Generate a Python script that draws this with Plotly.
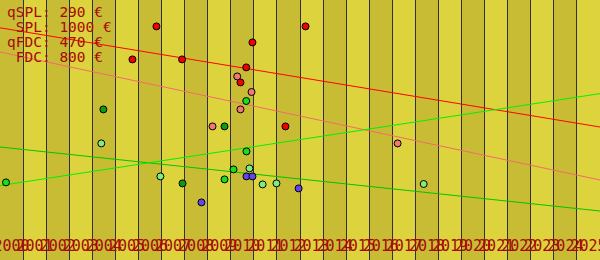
import plotly.graph_objects as go

# ---- data ----
years = list(range(2000, 2026))
year_labels = [str(y) for y in years]
dark_band_years = [y for y in years if y % 2 == 0]

red_x = [2006.78, 2013.24, 2010.94, 2005.74, 2007.89, 2010.67, 2010.42, 2012.37]
red_y = [1168, 1168, 1088, 1003, 1003, 963, 888, 668]

pink_x = [2010.28, 2010.90, 2010.42, 2009.21, 2017.23]
pink_y = [918, 840, 753, 668, 583]

bgreen_x = [2010.67, 2010.68, 2010.12, 2009.73, 2000.26]
bgreen_y = [795, 543, 453, 403, 388]

dgreen_x = [2004.48, 2009.73, 2007.91]
dgreen_y = [753, 668, 383]

lgreen_x = [2006.95, 2010.81, 2011.38, 2011.98, 2004.39, 2018.36]
lgreen_y = [418, 458, 378, 383, 583, 380]

blue_x = [2008.73, 2010.68, 2010.94, 2012.94]
blue_y = [288, 418, 418, 358]

trend_x = [2000, 2026]
red_trend = [1161, 665]
pink_trend = [1040, 400]
dgreen_trend = [565, 245]
bgreen_trend = [372, 832]

notes = ["qSPL: 290 €", "\u00a0SPL: 1000 €", "qFDC: 470 €", "\u00a0FDC: 800 €"]

# ---- styles ----
DARK_BAND = "#c9bc35"
LIGHT_BAND = "#ddd33d"
TEXT_COL = "#a50a0a"
FONT = "DejaVu Sans Mono"

fig = go.Figure()

for ys, col in [(red_trend, "#ff0000"), (pink_trend, "#f46a6a"),
                (dgreen_trend, "#00c400"), (bgreen_trend, "#00f000")]:
    fig.add_trace(go.Scatter(x=trend_x, y=ys, mode="lines",
                             line=dict(color=col, width=1), hoverinfo="skip"))

for xs, ys, col in [(red_x, red_y, "#f00000"), (pink_x, pink_y, "#f07878"),
                    (bgreen_x, bgreen_y, "#18e018"), (dgreen_x, dgreen_y, "#109a10"),
                    (lgreen_x, lgreen_y, "#80ec80"), (blue_x, blue_y, "#6444ee")]:
    fig.add_trace(go.Scatter(x=xs, y=ys, mode="markers",
                             marker=dict(color=col, size=7,
                                         line=dict(color="#000000", width=1))))

shapes = [dict(type="rect", xref="x", yref="paper", x0=y, x1=y + 1, y0=0, y1=1,
               fillcolor=DARK_BAND, line=dict(width=0), layer="below")
          for y in dark_band_years]

annotations = [dict(text=t, xref="paper", yref="paper", x=0.008, y=1 - (12 + 15 * i) / 260,
                    xanchor="left", yanchor="middle", showarrow=False,
                    font=dict(family=FONT, size=14.5, color=TEXT_COL))
               for i, t in enumerate(notes)]

fig.update_layout(
    width=600, height=260,
    margin=dict(l=0, r=0, t=0, b=0),
    paper_bgcolor="#ffffff",
    plot_bgcolor=LIGHT_BAND,
    showlegend=False,
    shapes=shapes,
    annotations=annotations,
    xaxis=dict(range=[2000, 2026], tickmode="array", automargin=False,
               tickvals=[y + 0.5 for y in years], ticktext=year_labels,
               tickangle=0,
               ticklabelposition="inside", ticklabeloverflow="allow",
               ticks="inside", ticklen=6, tickcolor="rgba(0,0,0,0)",
               showgrid=False, zeroline=False,
               tickfont=dict(family=FONT, size=15, color=TEXT_COL),
               minor=dict(tick0=2000, dtick=1, showgrid=True,
                          gridcolor="#303038", gridwidth=1, ticks="")),
    yaxis=dict(range=[0, 1300], showticklabels=False, showgrid=False,
               zeroline=False, ticks="", automargin=False),
)

fig.write_html("out.html")
